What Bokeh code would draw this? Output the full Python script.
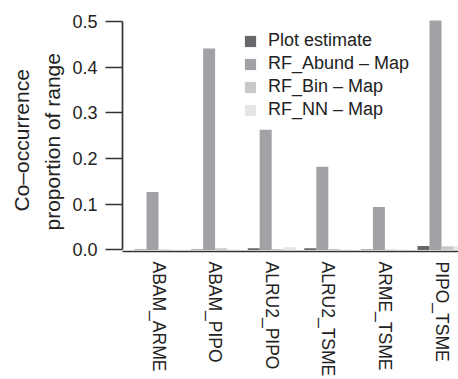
from bokeh.plotting import figure
from bokeh.models import FixedTicker, Legend, LegendItem, Range1d, Title
from bokeh.embed import file_html
from bokeh.resources import INLINE

# ---- data ----
pairs = ["ABAM_ARME", "ABAM_PIPO", "ALRU2_PIPO", "ALRU2_TSME", "ARME_TSME", "PIPO_TSME"]
series_names = ["Plot estimate", "RF_Abund \u2013 Map", "RF_Bin \u2013 Map", "RF_NN \u2013 Map"]
plot_estimate = [0.001, 0.001, 0.004, 0.004, 0.001, 0.009]
rf_abund = [0.127, 0.441, 0.263, 0.182, 0.094, 0.502]
rf_bin = [0.001, 0.004, 0.002, 0.002, 0.001, 0.008]
rf_nn = [0.0005, 0.001, 0.006, 0.001, 0.0005, 0.008]
y_ticks = [0.0, 0.1, 0.2, 0.3, 0.4, 0.5]
y_title_lines = ["Co\u2013occurrence", "proportion of range"]
colors = ["#68686c", "#a2a2a6", "#c9c9cb", "#e5e5e7"]

FONT = "Liberation Sans"
bar_w = 0.212

p = figure(width=458, height=379, output_backend="svg", toolbar_location=None,
           x_range=Range1d(-0.636, 5.30), y_range=Range1d(-0.0033, 0.5285),
           min_border_left=122, min_border_right=0, min_border_top=8,
           min_border_bottom=120)
p.outline_line_color = None
p.grid.visible = False
p.background_fill_color = "white"

xs = list(range(len(pairs)))
all_series = [plot_estimate, rf_abund, rf_bin, rf_nn]
renderers = []
for k, (vals, col) in enumerate(zip(all_series, colors)):
    off = (k - 1.5) * bar_w
    r = p.vbar(x=[x + off for x in xs], top=vals, width=bar_w, bottom=0,
               fill_color=col, line_color=None)
    renderers.append(r)

# y axis
ya = p.yaxis[0]
ya.ticker = FixedTicker(ticks=y_ticks)
ya.major_label_overrides = {t: f"{t:.1f}" for t in y_ticks}
ya.bounds = (0, 0.5)
ya.major_tick_out = 17
ya.major_tick_in = 0
ya.minor_tick_line_color = None
ya.major_label_standoff = 8
ya.axis_line_width = 1.7
ya.axis_line_color = "#333333"
ya.major_tick_line_width = 1.7
ya.major_tick_line_color = "#333333"
ya.major_label_text_font = FONT
ya.major_label_text_font_size = "18px"
ya.major_label_text_color = "#222222"

# y title as two stacked lines (inner line first)
for line, so, off in zip(reversed(y_title_lines), [12, 0], [21, 40]):
    t = Title(text=line, align="left", offset=off, standoff=so,
              text_font=FONT, text_font_size="21px", text_font_style="normal",
              text_color="#222222")
    p.add_layout(t, "left")

# x axis
xa = p.xaxis[0]
xa.ticker = FixedTicker(ticks=xs)
xa.major_label_overrides = {i: n for i, n in zip(xs, pairs)}
xa.major_tick_out = 0
xa.major_tick_in = 0
xa.minor_tick_line_color = None
xa.major_label_orientation = "vertical"
xa.major_label_standoff = 10
xa.axis_line_width = 1.7
xa.axis_line_color = "#333333"
xa.major_label_text_font = FONT
xa.major_label_text_font_size = "17.5px"
xa.major_label_text_color = "#222222"

legend = Legend(items=[LegendItem(label=n, renderers=[r]) for n, r in zip(series_names, renderers)],
                location=(121, 130), orientation="vertical")
legend.background_fill_alpha = 0
legend.border_line_color = None
legend.padding = 0
legend.margin = 0
legend.spacing = 0
legend.glyph_width = 14
legend.glyph_height = 14
legend.label_height = 23
legend.label_standoff = 11
legend.label_text_font = FONT
legend.label_text_font_size = "18px"
legend.label_text_color = "#222222"
p.add_layout(legend, "center")

open("out.html", "w").write(file_html(p, INLINE))
